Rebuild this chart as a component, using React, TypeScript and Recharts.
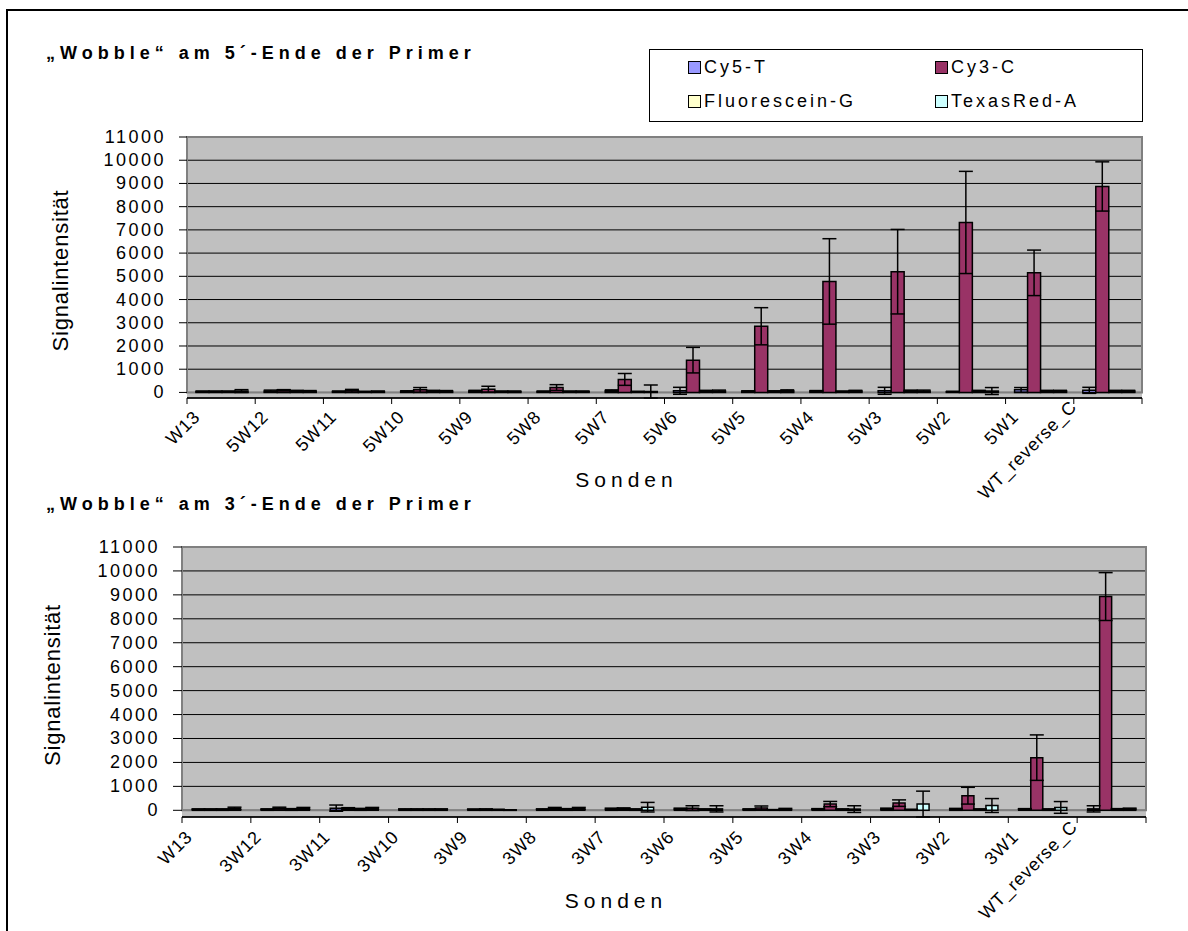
import { Bar, BarChart, CartesianGrid, ErrorBar, Legend, ReferenceArea, XAxis, YAxis } from "recharts"

// probe names, 5' wobble panel and 3' wobble panel
const probes5 = ["W13", "5W12", "5W11", "5W10", "5W9", "5W8", "5W7", "5W6", "5W5", "5W4", "5W3", "5W2", "5W1", "WT_reverse_C"]
const probes3 = ["W13", "3W12", "3W11", "3W10", "3W9", "3W8", "3W7", "3W6", "3W5", "3W4", "3W3", "3W2", "3W1", "WT_reverse_C"]

// signal intensities (mean and error) - 5' end
const cy5T_5 = [40, 60, 40, 50, 60, 40, 70, 70, 50, 60, 70, 30, 110, 90]
const cy5T_5Err = [20, 40, 20, 20, 30, 20, 40, 150, 20, 20, 150, 20, 100, 130]
const cy3C_5 = [40, 90, 70, 110, 140, 210, 560, 1390, 2850, 4780, 5200, 7320, 5150, 8870]
const cy3C_5Err = [20, 30, 60, 100, 125, 125, 255, 550, 800, 1840, 1820, 2200, 980, 1060]
const fluorG_5 = [40, 60, 30, 60, 40, 40, 30, 60, 50, 40, 70, 60, 60, 60]
const fluorG_5Err = [20, 30, 20, 30, 20, 20, 20, 30, 20, 20, 30, 30, 30, 30]
const texasA_5 = [60, 50, 40, 50, 40, 40, 40, 60, 70, 60, 60, 60, 60, 60]
const texasA_5Err = [60, 30, 20, 30, 20, 20, 280, 40, 40, 30, 40, 150, 30, 30]

// 3' end
const cy5T_3 = [40, 40, 90, 40, 40, 40, 60, 60, 40, 50, 60, 50, 50, 60]
const cy5T_3Err = [20, 20, 130, 20, 10, 20, 30, 30, 20, 20, 30, 30, 20, 130]
const cy3C_3 = [40, 90, 70, 40, 40, 80, 70, 90, 100, 260, 300, 610, 2200, 8930]
const cy3C_3Err = [20, 40, 40, 20, 20, 40, 30, 100, 80, 110, 135, 350, 950, 1000]
const fluorG_3 = [40, 50, 50, 40, 30, 50, 40, 40, 20, 40, 30, 40, 40, 50]
const fluorG_3Err = [20, 20, 30, 20, 10, 20, 20, 20, 10, 20, 10, 20, 20, 20]
const texasA_3 = [80, 80, 80, 40, 10, 80, 130, 60, 50, 50, 260, 200, 120, 60]
const texasA_3Err = [50, 40, 40, 20, 10, 40, 200, 130, 30, 140, 540, 290, 245, 30]

const yTicks = [0, 1000, 2000, 3000, 4000, 5000, 6000, 7000, 8000, 9000, 10000, 11000]

const series = [
  { key: "cy5", name: "Cy5-T", color: "#9999ff" },
  { key: "cy3", name: "Cy3-C", color: "#993366" },
  { key: "fl", name: "Fluorescein-G", color: "#ffffcc" },
  { key: "tr", name: "TexasRed-A", color: "#ccffff" },
]

const FONT = '"Liberation Sans", Arial, Helvetica, sans-serif'

type Row = Record<string, string | number>

function toRows(probes: string[], values: number[][], errors: number[][]): Row[] {
  return probes.map((probe, i) => {
    const row: Row = { probe }
    series.forEach((s, k) => {
      row[s.key] = values[k][i]
      row[s.key + "Err"] = errors[k][i]
    })
    return row
  })
}

const rows5 = toRows(probes5, [cy5T_5, cy3C_5, fluorG_5, texasA_5], [cy5T_5Err, cy3C_5Err, fluorG_5Err, texasA_5Err])
const rows3 = toRows(probes3, [cy5T_3, cy3C_3, fluorG_3, texasA_3], [cy5T_3Err, cy3C_3Err, fluorG_3Err, texasA_3Err])

function ValueTick({ x, y, payload }: any) {
  return (
    <text x={x} y={y} textAnchor="end" dominantBaseline="central" fontSize={18} letterSpacing={2.5} fill="#000" fontFamily={FONT}>
      {payload.value}
    </text>
  )
}

function makeCategoryTick(half: number, dx: number, dy: number) {
  return function CategoryTick({ x, y, payload, index }: any) {
    // long labels sit a little higher, as in the original
    const lift = String(payload.value).length > 8 ? -10 : 0
    const tx = x + dx + lift
    const ty = y + dy + lift
    return (
      <g>
        <line x1={x + half} x2={x + half} y1={y} y2={y + 6} stroke="#000" strokeWidth={1} />
        {index === 0 && <line x1={x - half} x2={x - half} y1={y} y2={y + 6} stroke="#000" strokeWidth={1} />}
        <text x={tx} y={ty} transform={`rotate(-45 ${tx} ${ty})`} textAnchor="end" fontSize={18} letterSpacing={0.8} fill="#000" fontFamily={FONT}>
          {payload.value}
        </text>
      </g>
    )
  }
}

function LegendBox({ payload }: any) {
  const items = [...(payload ?? [])].sort(
    (a: any, b: any) => series.findIndex((s) => s.name === a.value) - series.findIndex((s) => s.name === b.value),
  )
  return (
    <div
      style={{
        boxSizing: "border-box",
        width: "100%",
        height: "100%",
        border: "1px solid #000",
        background: "#fff",
        display: "grid",
        gridTemplateColumns: "247px 247px",
        gridAutoRows: "34px",
        paddingLeft: 38,
        paddingTop: 0,
        fontFamily: FONT,
      }}
    >
      {items.map((entry: any) => (
        <div key={entry.value} style={{ display: "flex", alignItems: "center", fontSize: 18, letterSpacing: 3, color: "#000" }}>
          <span style={{ boxSizing: "border-box", width: 13, height: 13, border: "1.5px solid #000", background: entry.color, marginRight: 3 }} />
          {entry.value}
        </div>
      ))}
    </div>
  )
}

type PanelProps = {
  rows: Row[]
  height: number
  margin: { top: number; right: number; bottom: number; left: number }
  yAxisWidth: number
  tickSize: number
  gap: number
  tickDx: number
  tickDy: number
  yTitleX: number
  xTitleShift: number
  xTitleDrop: number
  legend?: boolean
}

function ProbePanel({ rows, height, margin, yAxisWidth, tickSize, gap, tickDx, tickDy, yTitleX, xTitleShift, xTitleDrop, legend }: PanelProps) {
  const width = 1188
  const plotWidth = width - margin.left - margin.right - yAxisWidth
  const half = plotWidth / rows.length / 2
  return (
    <BarChart width={width} height={height} data={rows} margin={margin} barCategoryGap={gap} barGap={0}>
      <CartesianGrid vertical={false} stroke="#000" strokeWidth={1} fill="#c0c0c0" fillOpacity={1} />
      <ReferenceArea y1={0} y2={11000} fill="none" stroke="#808080" strokeWidth={2} ifOverflow="visible" />
      <XAxis
        dataKey="probe"
        interval={0}
        height={90}
        tickLine={false}
        tickSize={0}
        tickMargin={0}
        axisLine={{ stroke: "#000", strokeWidth: 1.5 }}
        tick={makeCategoryTick(half, tickDx, tickDy)}
        label={(p: any) => {
          const vb = p.viewBox
          return (
            <text x={vb.x + vb.width / 2 + xTitleShift} y={vb.y + xTitleDrop} textAnchor="middle" fontSize={21} letterSpacing={5} fill="#000" fontFamily={FONT}>
              Sonden
            </text>
          )
        }}
      />
      <YAxis
        type="number"
        domain={[0, 11000]}
        ticks={yTicks}
        interval={0}
        width={yAxisWidth}
        axisLine={false}
        tickLine={{ stroke: "#000", strokeWidth: 1 }}
        tickSize={tickSize}
        tickMargin={13}
        tick={<ValueTick />}
        label={(p: any) => {
          const vb = p.viewBox
          const cy = vb.y + vb.height / 2 + 3
          return (
            <text x={yTitleX} y={cy} transform={`rotate(-90 ${yTitleX} ${cy})`} textAnchor="middle" dominantBaseline="central" fontSize={22} letterSpacing={0.8} fill="#000" fontFamily={FONT}>
              Signalintensität
            </text>
          )
        }}
      />
      {legend && (
        <Legend
          layout="horizontal"
          verticalAlign="middle"
          align="center"
          wrapperStyle={{ position: "absolute", left: 649, top: 49, width: 494, height: 73 }}
          content={<LegendBox />}
        />
      )}
      {series.map((s) => (
        <Bar key={s.key} dataKey={s.key} name={s.name} fill={s.color} stroke="#000" strokeWidth={1.5} isAnimationActive={false}>
          <ErrorBar dataKey={s.key + "Err"} width={7} stroke="#000" strokeWidth={1.5} direction="y" isAnimationActive={false} />
        </Bar>
      ))}
    </BarChart>
  )
}

const titleStyle = (top: number): React.CSSProperties => ({
  position: "absolute",
  left: 46,
  top,
  fontSize: 18,
  fontWeight: "bold",
  letterSpacing: 5,
  whiteSpace: "nowrap",
  lineHeight: "normal",
})

export default function App() {
  return (
    <div
      style={{
        position: "fixed",
        left: 0,
        top: 0,
        width: 1188,
        height: 931,
        overflow: "hidden",
        background: "#fff",
        fontFamily: FONT,
        color: "#000",
      }}
    >
      <div style={{ position: "absolute", left: 6, top: 9, width: 1400, height: 1200, border: "2px solid #000" }} />
      <div style={{ position: "absolute", left: 0, top: 0 }}>
        <ProbePanel
          rows={rows5}
          height={520}
          margin={{ top: 137, right: 46, bottom: 32, left: 0 }}
          yAxisWidth={187}
          tickSize={8}
          gap={9}
          tickDx={-20}
          tickDy={20}
          yTitleX={60}
          xTitleShift={-38}
          xTitleDrop={89}
          legend
        />
      </div>
      <div style={{ position: "absolute", left: 0, top: 420 }}>
        <ProbePanel
          rows={rows3}
          height={511}
          margin={{ top: 127, right: 42, bottom: 24, left: 0 }}
          yAxisWidth={182}
          tickSize={9}
          gap={10.5}
          tickDx={-23}
          tickDy={21}
          yTitleX={52}
          xTitleShift={-48}
          xTitleDrop={91}
        />
      </div>
      <div style={titleStyle(43)}>„Wobble“ am 5´-Ende der Primer</div>
      <div style={titleStyle(494)}>„Wobble“ am 3´-Ende der Primer</div>
    </div>
  )
}
